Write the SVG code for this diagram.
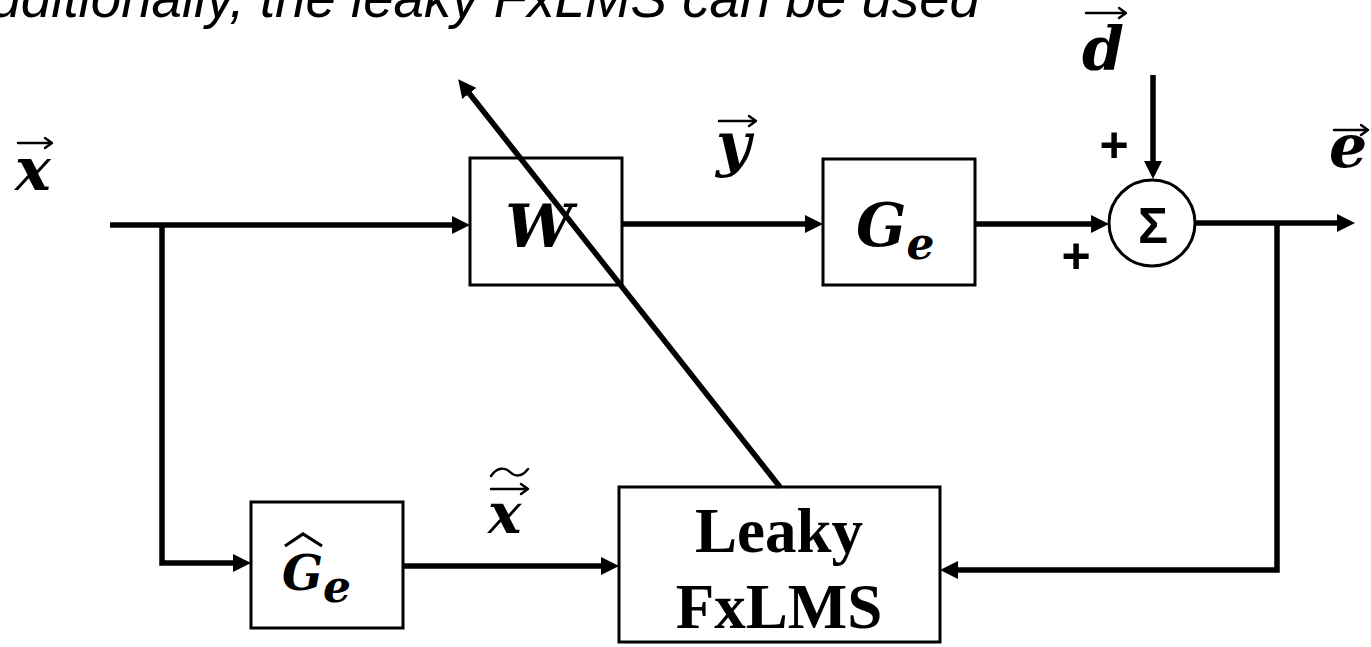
<svg xmlns="http://www.w3.org/2000/svg" width="1371" height="647" viewBox="0 0 1371 647">
  <style>
    .box { fill: #fff; stroke: #000; stroke-width: 3; }
    .wire { fill: none; stroke: #000; stroke-width: 5.5; }
    .vec { fill: none; stroke: #000; stroke-width: 2.4; stroke-linecap: round; stroke-linejoin: round; }
    .math { font-family: "DejaVu Serif", "Liberation Serif", serif; font-weight: bold; font-style: italic; fill: #000; }
    .sign { font-family: "Liberation Sans", Arial, sans-serif; font-weight: bold; fill: #000; }
    .caption { font-family: "Liberation Sans", Arial, sans-serif; font-style: italic; fill: #000; }
    .algo { font-family: "Liberation Serif", "Times New Roman", serif; font-weight: bold; fill: #000; text-anchor: middle; }
  </style>
  <defs>
    <marker id="arrow" markerUnits="userSpaceOnUse" markerWidth="18" markerHeight="18" refX="7" refY="9" orient="auto">
      <path d="M0,0 L18,9 L0,18 z" fill="#000"/>
    </marker>
  </defs>

  <rect width="1371" height="647" fill="#fff"/>

  <!-- running sentence, clipped at the top edge -->
  <text class="caption" x="-46" y="17" font-size="56" textLength="1026" lengthAdjust="spacingAndGlyphs">Additionally, the leaky FxLMS can be used</text>

  <!-- signal labels -->
  <g id="label-x">
    <path class="vec" d="M18 143 H52 M45 138 L52 143 L45 148"/>
    <text class="math" x="15" y="190" font-size="60">x</text>
  </g>
  <g id="label-y">
    <path class="vec" d="M719 121 H756 M749 116 L756 121 L749 126"/>
    <text class="math" x="716" y="165" font-size="60">y</text>
  </g>
  <g id="label-d">
    <path class="vec" d="M1086 13 H1126 M1119 8 L1126 13 L1119 18"/>
    <text class="math" x="1082" y="70" font-size="60">d</text>
  </g>
  <g id="label-e">
    <path class="vec" d="M1334 130 H1368 M1361 125 L1368 130 L1361 135"/>
    <text class="math" x="1329" y="167" font-size="60">e</text>
  </g>
  <g id="label-xf">
    <path class="vec" d="M491 476 C497 467 505 467 510 472 C515 477 522 477 528 469"/>
    <path class="vec" d="M491 489 H528 M521 484 L528 489 L521 494"/>
    <text class="math" x="488" y="533" font-size="56">x</text>
  </g>

  <!-- adaptive filter W -->
  <g id="node-w">
    <rect class="box" x="470" y="158" width="152" height="127"/>
    <text class="math" x="539" y="247" font-size="60" text-anchor="middle">W</text>
  </g>

  <!-- secondary path G_e -->
  <g id="node-ge">
    <rect class="box" x="823" y="159" width="152" height="126"/>
    <text class="math" x="856" y="246" font-size="59">G<tspan font-size="44" dy="13">e</tspan></text>
  </g>

  <!-- summing junction -->
  <g id="node-sum">
    <circle cx="1152" cy="223" r="43" fill="#fff" stroke="#000" stroke-width="3"/>
    <text class="sign" x="1153" y="243" font-size="50" text-anchor="middle">Σ</text>
    <text class="sign" x="1114" y="162" font-size="50" text-anchor="middle">+</text>
    <text class="sign" x="1076" y="273" font-size="50" text-anchor="middle">+</text>
  </g>

  <!-- secondary path estimate -->
  <g id="node-ge-hat">
    <rect class="box" x="251" y="502" width="152" height="126"/>
    <path d="M285 546 L303 534 L322 546" fill="none" stroke="#000" stroke-width="3.2" stroke-linejoin="miter"/>
    <text class="math" x="282" y="590" font-size="48">G<tspan font-size="44" dy="12">e</tspan></text>
  </g>

  <!-- adaptation algorithm -->
  <g id="node-fxlms">
    <rect class="box" x="619" y="487" width="321" height="155"/>
    <text class="algo" x="779" y="552" font-size="63">Leaky</text>
    <text class="algo" x="779" y="628" font-size="63">FxLMS</text>
  </g>

  <!-- connectors, drawn last so the update arrow crosses W -->
  <g id="connectors">
    <path class="wire" d="M110 225 H459" marker-end="url(#arrow)"/>
    <path class="wire" d="M162 225 V563 H240" marker-end="url(#arrow)"/>
    <path class="wire" d="M622 224 H812" marker-end="url(#arrow)"/>
    <path class="wire" d="M975 224 H1098" marker-end="url(#arrow)"/>
    <path class="wire" d="M1153 75 V168" marker-end="url(#arrow)"/>
    <path class="wire" d="M1196 223 H1344" marker-end="url(#arrow)"/>
    <path class="wire" d="M1277 223 V570 H951" marker-end="url(#arrow)"/>
    <path class="wire" d="M403 566 H608" marker-end="url(#arrow)"/>
    <path class="wire" d="M780 487 L465 88" marker-end="url(#arrow)"/>
  </g>
</svg>
